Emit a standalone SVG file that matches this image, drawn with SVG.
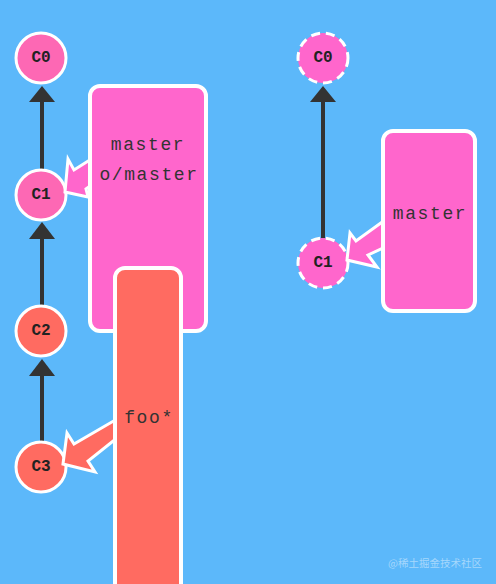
<svg xmlns="http://www.w3.org/2000/svg" width="496" height="584" viewBox="0 0 496 584">
<style>
.bg{fill:#5cb8fa}
.commit{stroke:#fff;stroke-width:3}
.pinkc{fill:#fd68b4}
.pinkr{fill:#ff66cc}
.salmon{fill:#ff6b61}
.dash{stroke-dasharray:9 6}
.ctext{font-family:"Liberation Mono",monospace;font-weight:bold;font-size:16px;fill:#222;text-anchor:middle;dominant-baseline:central}
.btext{font-family:"Liberation Mono",monospace;font-size:18px;letter-spacing:1.6px;fill:#333;text-anchor:middle;dominant-baseline:central}
.box{stroke:#fff;stroke-width:4}
.edge{stroke:#333;stroke-width:4;fill:none}
.head{fill:#333}
.ptr{stroke:#fff;stroke-width:3;stroke-linejoin:miter}
.wm{font-family:"Noto Sans CJK SC",sans-serif;font-size:10.5px;fill:#ffffff;fill-opacity:0.45}
</style>
<rect class="bg" x="0" y="0" width="496" height="584"/>
<g id="connectors">
<line class="edge" x1="42" y1="100" x2="42" y2="170"/>
<polygon class="head" points="42,86 29,102 55,102"/>
<line class="edge" x1="42" y1="237" x2="42" y2="306"/>
<polygon class="head" points="42,222 29,239 55,239"/>
<line class="edge" x1="42" y1="374" x2="42" y2="442"/>
<polygon class="head" points="42,359 29,376 55,376"/>
<line class="edge" x1="323" y1="100" x2="323" y2="238"/>
<polygon class="head" points="323,86 310,102 336,102"/>
</g>
<g id="C0">
<circle class="commit pinkc" cx="41" cy="58" r="25"/>
<text class="ctext" x="41" y="58">C0</text>
</g>
<g id="C1">
<circle class="commit pinkc" cx="41" cy="195" r="25"/>
<text class="ctext" x="41" y="195">C1</text>
</g>
<g id="C2">
<circle class="commit salmon" cx="41" cy="331" r="25"/>
<text class="ctext" x="41" y="331">C2</text>
</g>
<g id="C3">
<circle class="commit salmon" cx="41" cy="467" r="25"/>
<text class="ctext" x="41" y="467">C3</text>
</g>
<g id="R-C0">
<circle class="commit pinkr dash" cx="323" cy="58" r="25"/>
<text class="ctext" x="323" y="58">C0</text>
</g>
<g id="R-C1">
<circle class="commit pinkr dash" cx="323" cy="263" r="25"/>
<text class="ctext" x="323" y="263">C1</text>
</g>
<g id="branch-master">
<polygon class="ptr pinkr" points="65,192 68,159 74,170 93,158 93,184 86,189 88,197"/>
<rect class="box pinkr" x="90" y="86" width="116" height="245" rx="10"/>
<text class="btext" x="148" y="145">master</text>
<text class="btext" x="149" y="175">o/master</text>
</g>
<g id="branch-foo">
<polygon class="ptr salmon" points="63,464 67,433 74,444 117,419 117,438 88,461 95,472"/>
<rect class="box salmon" x="115" y="268" width="66" height="330" rx="10"/>
<text class="btext" x="149" y="418">foo*</text>
</g>
<g id="branch-master-right">
<polygon class="ptr pinkr" points="347,260 350,233 356,241 385,220 385,247 368,255 377,267"/>
<rect class="box pinkr" x="383" y="131" width="92" height="180" rx="10"/>
<text class="btext" x="430" y="214">master</text>
</g>
<text class="wm" x="388" y="567">@稀土掘金技术社区</text>
</svg>
